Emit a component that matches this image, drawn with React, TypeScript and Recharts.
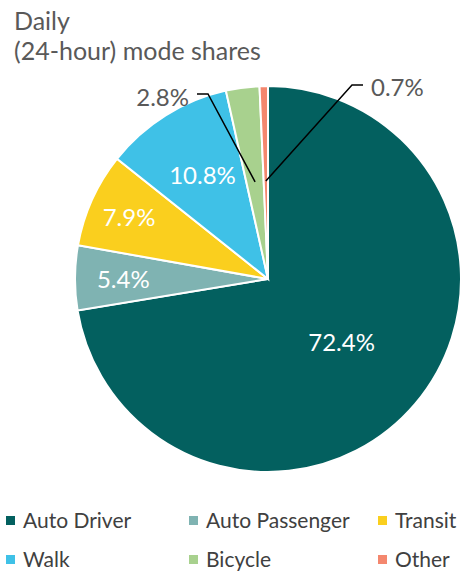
import React from "react";
import { PieChart, Pie, Cell, Legend } from "recharts";

const categories = ["Auto Driver", "Auto Passenger", "Transit", "Walk", "Bicycle", "Other"];
const shares = [72.4, 5.4, 7.9, 10.8, 2.8, 0.7];
const labels = ["72.4%", "5.4%", "7.9%", "10.8%", "2.8%", "0.7%"];
const titleLines = ["Daily", "(24-hour) mode shares"];

const COLORS = ["#03605F", "#7FB3B2", "#FACF1E", "#3FC1E7", "#A8D18E", "#F4876E"];
const FONT = "Lato, 'Open Sans', sans-serif";
const INNER_FRAC = [0.5, 0.75, 0.79, 0.64];

const data = categories.map((name, i) => ({ name, value: shares[i], label: labels[i] }));

const RAD = Math.PI / 180;

const renderLabel = (props: any) => {
  const { cx, cy, midAngle, outerRadius, index } = props;
  const a = -midAngle * RAD;
  if (index < 4) {
    const r = outerRadius * INNER_FRAC[index];
    const x = cx + r * Math.cos(a);
    const y = cy + r * Math.sin(a);
    return (
      <text x={x} y={y} fill="#ffffff" fontSize={24} fontFamily={FONT} textAnchor="middle" dominantBaseline="central">
        {data[index].label}
      </text>
    );
  }
  const r = outerRadius * 0.508;
  const ax = cx + r * Math.cos(a);
  const ay = cy + r * Math.sin(a);
  if (index === 4) {
    const ex = cx - 60, ey = cy - 185;
    const fx = ex - 11;
    return (
      <g>
        <polyline points={`${ax},${ay} ${ex},${ey} ${fx},${ey}`} fill="none" stroke="#000" strokeWidth={1.5} />
        <text x={fx - 8} y={ey + 2} fill="#595959" fontSize={24} fontFamily={FONT} textAnchor="end" dominantBaseline="central">
          {data[index].label}
        </text>
      </g>
    );
  }
  const ex = cx + 84, ey = cy - 194;
  const fx = ex + 11;
  return (
    <g>
      <polyline points={`${ax},${ay} ${ex},${ey} ${fx},${ey}`} fill="none" stroke="#000" strokeWidth={1.5} />
      <text x={fx + 8} y={ey + 1} fill="#595959" fontSize={24} fontFamily={FONT} textAnchor="start" dominantBaseline="central">
        {data[index].label}
      </text>
    </g>
  );
};

const LEGEND_COLS = [6, 189, 378];
const LEGEND_ROWS = [515, 554];

const renderLegend = () => (
  <div style={{ position: "relative", width: 466, height: 571 }}>
    {data.map((d, i) => {
      const col = i % 3;
      const row = Math.floor(i / 3);
      return (
        <div key={d.name} style={{ position: "absolute", left: LEGEND_COLS[col], top: LEGEND_ROWS[row] - 8, display: "flex", alignItems: "center", height: 26 }}>
          <span style={{ display: "inline-block", width: 9, height: 9, background: COLORS[i], marginRight: 8 }} />
          <span style={{ fontFamily: FONT, fontSize: 21, color: "#404040", whiteSpace: "nowrap", lineHeight: "26px" }}>{d.name}</span>
        </div>
      );
    })}
  </div>
);

export default function App() {
  return (
    <div style={{ position: "absolute", left: 0, top: 0, width: 466, height: 571, background: "#fff" }}>
      <div style={{ position: "absolute", left: 14, top: 5, fontFamily: FONT, fontSize: 25, lineHeight: "30px", color: "#595959" }}>
        {titleLines.map((t) => (
          <div key={t} style={{ whiteSpace: "nowrap" }}>{t}</div>
        ))}
      </div>
      <PieChart width={466} height={571} margin={{ top: 0, right: 0, bottom: 0, left: 0 }} style={{ position: "absolute", left: 0, top: 0 }}>
        <Pie
          data={data}
          dataKey="value"
          nameKey="name"
          cx={268}
          cy={279}
          outerRadius={193}
          startAngle={90}
          endAngle={-270}
          stroke="#ffffff"
          strokeWidth={2}
          label={renderLabel}
          labelLine={false}
          isAnimationActive={false}
        >
          {data.map((d, i) => (
            <Cell key={d.name} fill={COLORS[i]} />
          ))}
        </Pie>
        <Legend content={renderLegend} wrapperStyle={{ position: "absolute", left: 0, top: 0, width: 466, height: 571 }} />
      </PieChart>
    </div>
  );
}
